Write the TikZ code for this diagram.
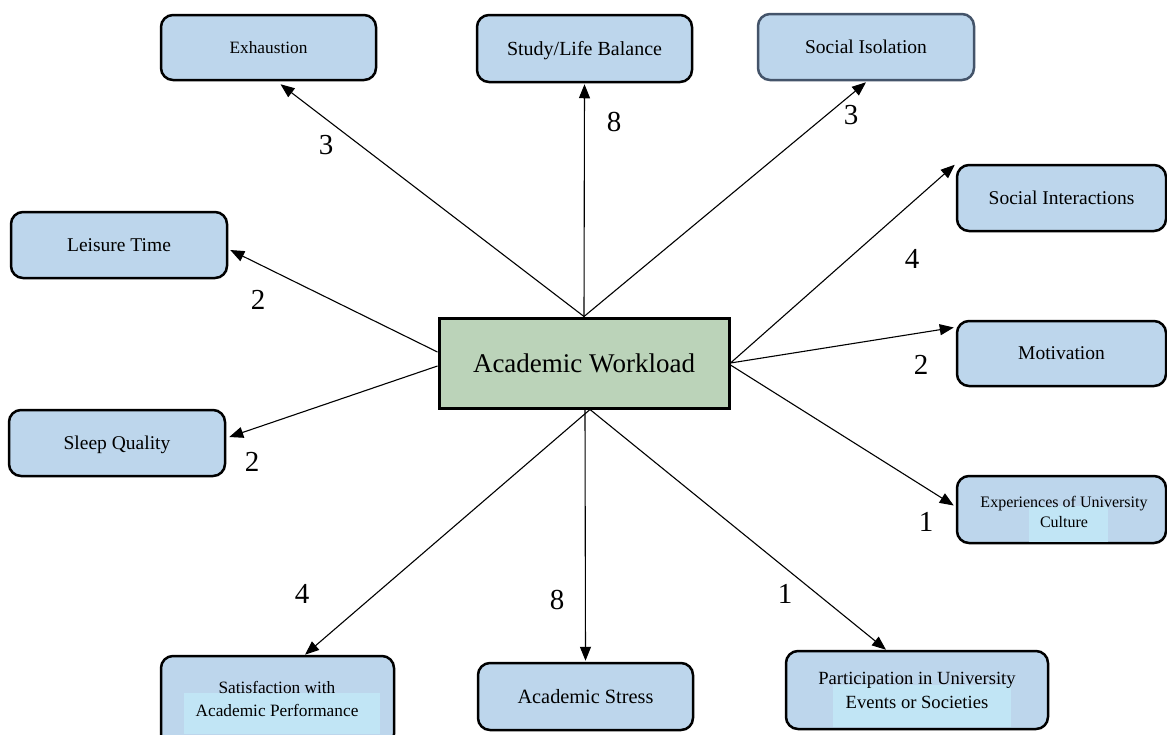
\documentclass[tikz,border=0pt]{standalone}
\usepackage{fontspec}
\setmainfont{Liberation Serif}
\newfontfamily\tnr{Liberation Serif}
\usetikzlibrary{arrows.meta,calc}
\definecolor{boxblue}{RGB}{189,214,236}
\definecolor{hlblue}{RGB}{193,229,245}
\definecolor{cgreen}{RGB}{187,211,185}
\definecolor{slate}{RGB}{68,84,106}
\newcommand\setfs[1]{\tnr\fontsize{#1}{#1}\selectfont}
\tikzset{
  box/.style={draw=black, line width=2.5pt, fill=boxblue, rounded corners=12pt, inner sep=0pt, text depth=0pt},
  lbl/.style={font=\setfs{19.5}, inner sep=0pt},
  num/.style={font=\setfs{29}, inner sep=0pt},
  hl/.style={fill=hlblue, draw=none},
  arr/.style={line width=1.1pt, -{Triangle[length=14pt,width=11pt]}},
}
\begin{document}
\begin{tikzpicture}[x=1pt,y=-1pt]
\clip (0,0) rectangle (1167,734);
\fill[white] (0,0) rectangle (1167,734);

% central node
\node[draw=black, line width=3pt, fill=cgreen, minimum width=290pt, minimum height=90pt, inner sep=0pt, font=\setfs{27}] (c) at (584,363) {Academic Workload};

% single-line boxes
\node[box, minimum width=215pt, minimum height=65pt, font=\setfs{17.3}] (ex) at (268.5,47.5) {Exhaustion};
\node[box, minimum width=215pt, minimum height=67pt, font=\setfs{20}] (sl) at (584.5,48.5) {Study/Life Balance};
\node[box, draw=slate, minimum width=216pt, minimum height=66pt, lbl] (si) at (866,47) {Social Isolation};
\node[box, minimum width=209pt, minimum height=66pt, lbl] (sint) at (1061.5,198) {Social Interactions};
\node[box, minimum width=216pt, minimum height=66pt, lbl] (lt) at (119,245) {Leisure Time};
\node[box, minimum width=209pt, minimum height=65pt, lbl] (mo) at (1061.5,353.5) {Motivation};
\node[box, minimum width=216pt, minimum height=66pt, lbl] (sq) at (117,443) {Sleep Quality};
\node[box, minimum width=215pt, minimum height=67pt, font=\setfs{20.3}] (as) at (585.5,696.5) {Academic Stress};

% two-line boxes
\node[box, minimum width=209pt, minimum height=67pt] (exp) at (1061.5,509.5) {};
\fill[hl] (1029,506) rectangle (1108,542);
\node[anchor=base, font=\setfs{16}, inner sep=0pt] (exp1) at (1064,507) {Experiences of University};
\node[anchor=base, font=\setfs{16}, inner sep=0pt] (exp2) at (1064,527) {Culture};

\node[box, minimum width=233pt, minimum height=90pt] (sat) at (277.5,701) {};
\fill[hl] (184,693) rectangle (380,734);
\node[anchor=base, font=\setfs{17.3}, inner sep=0pt] (sat1) at (277,693) {Satisfaction with};
\node[anchor=base, font=\setfs{17.3}, inner sep=0pt] (sat2) at (277,716) {Academic Performance};

\node[box, minimum width=262pt, minimum height=78pt] (par) at (917,690) {};
\fill[hl] (833,685) rectangle (1011,727);
\node[anchor=base, font=\setfs{18.6}, inner sep=0pt] (par1) at (917,684) {Participation in University};
\node[anchor=base, font=\setfs{18.6}, inner sep=0pt] (par2) at (917,708) {Events or Societies};

% connectors
\draw[arr] (c.north) -- ($(ex.south)+(12,3)$);
\draw[arr] (c.north) -- ($(sl.south)+(0,1)$);
\draw[arr] (c.north) -- ($(si.south)+(0,1)$);
\draw[arr] ($(c.west)+(0,-11)$) -- ($(lt.east)+(2,5)$);
\draw[arr] ($(c.west)+(0,3)$) -- ($(sq.east)+(3,-6)$);
\draw[arr] (c.east) -- ($(sint.north west)+(-1,1)$);
\draw[arr] (c.east) -- ($(mo.west)+(-2,-26)$);
\draw[arr] ($(c.east)+(0,2)$) -- ($(exp.west)+(-2,-4)$);
\draw[arr] ($(c.south)+(6,0)$) -- ($(sat.north)+(27.5,0)$);
\draw[arr] ($(c.south)+(1,0)$) -- ($(as.north)+(0,-1)$);
\draw[arr] ($(c.south)+(6,0)$) -- ($(par.north)+(-31,0)$);

% weights
\node[num] (w1) at (326,145) {3};
\node[num] (w2) at (614,122) {8};
\node[num] (w3) at (851,115) {3};
\node[num] (w4) at (258,300) {2};
\node[num] (w5) at (252,462) {2};
\node[num] (w6) at (912,259) {4};
\node[num] (w7) at (921,365) {2};
\node[num] (w8) at (926,522) {1};
\node[num] (w9) at (302,594) {4};
\node[num] (w10) at (557,600) {8};
\node[num] (w11) at (785,594) {1};
\end{tikzpicture}
\end{document}
